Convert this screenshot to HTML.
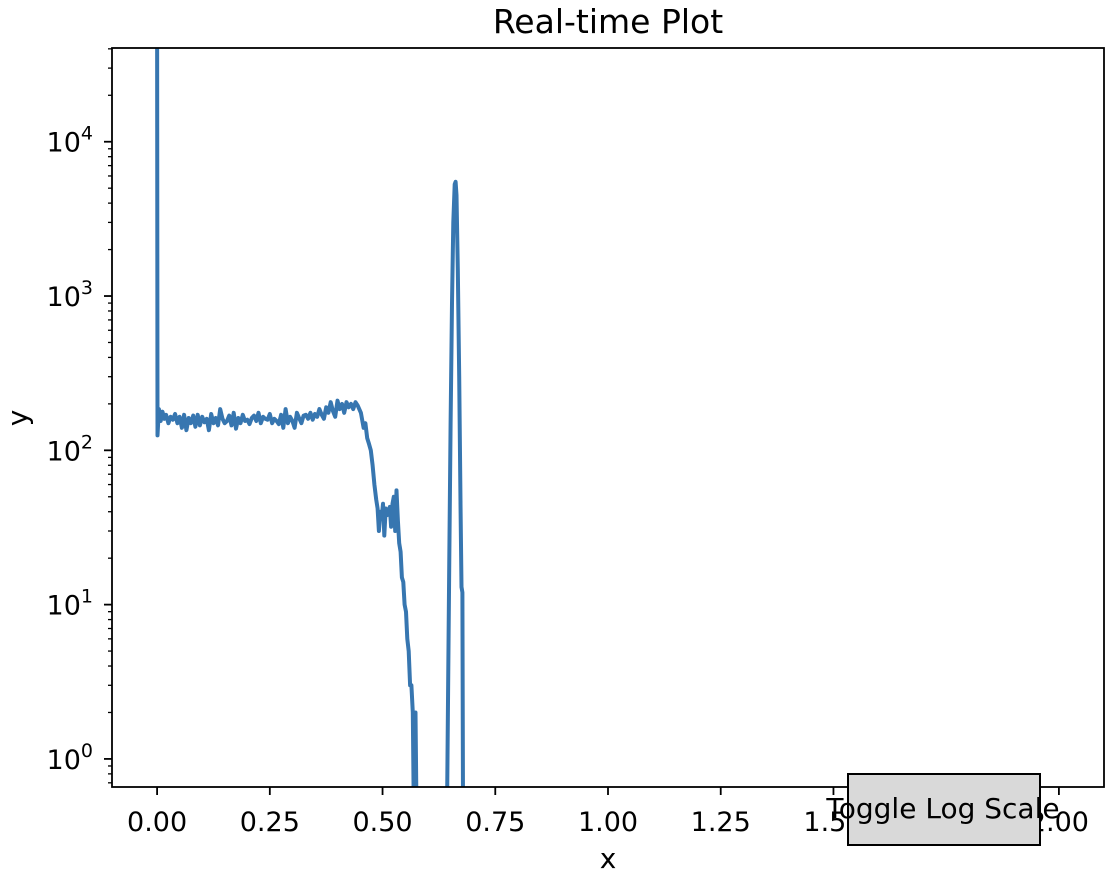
<!DOCTYPE html>
<html><head><meta charset="utf-8"><style>
body{margin:0;background:#fff;width:1116px;height:878px;overflow:hidden}
svg text{font-family:"DejaVu Sans","Liberation Sans",sans-serif;fill:#000}
</style></head><body>
<svg id="chart" width="1116" height="878" xmlns="http://www.w3.org/2000/svg">
<defs><clipPath id="clip"><rect x="112" y="48" width="992" height="739"/></clipPath></defs>
<text x="608" y="33" font-size="33" text-anchor="middle">Real-time Plot</text>
<text x="608" y="868" font-size="28" text-anchor="middle">x</text>
<text x="27" y="418" font-size="28" text-anchor="middle" transform="rotate(-90 27 418)">y</text>
<g id="ticks"></g>
<g clip-path="url(#clip)"><path id="line" fill="none" stroke="#3776b0" stroke-width="4" stroke-linejoin="round"/></g>
<rect x="112" y="48" width="992" height="739" fill="none" stroke="#000" stroke-width="1.8"/>
<g>
<rect x="848" y="774" width="192" height="71" fill="#d9d9d9" stroke="#000" stroke-width="2"/>
<text x="943" y="818" font-size="28" text-anchor="middle">Toggle Log Scale</text>
</g>
</svg>
<script>
const xTicks=[0,0.25,0.5,0.75,1.0,1.25,1.5,1.75,2.0];
const xTickLabels=["0.00","0.25","0.50","0.75","1.00","1.25","1.50","1.75","2.00"];
const yDecades=[0,1,2,3,4];
const flatX=[0.000,0.001,0.004,0.008,0.012,0.016,0.020,0.025,0.030,0.035,0.040,0.045,0.050,0.055,0.060,0.065,0.070,0.075,0.080,0.085,0.090,0.095,0.100,0.105,0.110,0.115,0.120,0.125,0.130,0.135,0.140,0.145,0.150,0.155,0.160,0.165,0.170,0.175,0.180,0.185,0.190,0.195,0.200,0.205,0.210,0.215,0.220,0.225,0.230,0.235,0.240,0.245,0.250,0.255,0.260,0.265,0.270,0.275,0.280,0.285,0.290,0.295,0.300,0.305,0.310,0.315,0.320,0.325,0.330,0.335,0.340,0.345,0.350,0.355,0.360,0.365,0.370,0.375,0.380,0.385,0.390,0.395,0.400,0.405,0.410,0.415,0.420,0.425,0.430,0.435,0.440,0.445];
const flatY=[60000,125,185,155,178,160,170,150,165,158,172,150,165,140,170,135,162,150,168,142,170,145,165,152,160,135,172,150,162,145,185,160,150,155,168,145,175,138,162,150,170,155,158,148,162,168,155,175,150,165,160,158,172,150,160,155,148,170,140,185,150,165,155,140,175,162,150,168,170,160,175,158,172,165,185,170,160,190,175,205,180,165,210,185,200,175,205,190,200,185,205,195];
const tailX=[0.452,0.458,0.462,0.466,0.470,0.474,0.478,0.482,0.486,0.489,0.492,0.495,0.498,0.501,0.504,0.507,0.510,0.513,0.516,0.519,0.522,0.525,0.528,0.531,0.534,0.537,0.540,0.543,0.546,0.549,0.552,0.555,0.558,0.561,0.564,0.567,0.570,0.573,0.576,0.578,0.580];
const tailY=[175,140,150,120,110,100,80,60,48,42,30,40,36,45,28,42,38,40,43,32,45,50,30,55,35,25,22,15,14,10,9,6,5,3,3,2,0.3,2,0.3,0.1,0.1];
const peakX=[0.620,0.641,0.645,0.648,0.651,0.654,0.657,0.660,0.662,0.664,0.667,0.670,0.673,0.675,0.677,0.679,0.681,0.700];
const peakY=[0.1,0.1,2,20,150,900,3000,5300,5500,4500,1500,300,40,13,12,0.1,0.1,0.1];
const X0=112,X1=1104,Y0=48,Y1=787,xmin=-0.1,xmax=2.1;
const ytop=Math.log10(40500),ybot=-0.182;
const sx=v=>X0+(v-xmin)/(xmax-xmin)*(X1-X0);
const sy=v=>Y0+(ytop-Math.log10(Math.max(v,1e-3)))/(ytop-ybot)*(Y1-Y0);
const xs=flatX.concat(tailX,peakX), ys=flatY.concat(tailY,peakY);
let d="";for(let i=0;i<xs.length;i++){d+=(i?"L":"M")+sx(xs[i]).toFixed(1)+" "+sy(ys[i]).toFixed(1);}
document.getElementById('line').setAttribute('d',d);
const g=document.getElementById('ticks');const NS="http://www.w3.org/2000/svg";
function mk(t,a){const e=document.createElementNS(NS,t);for(const k in a)e.setAttribute(k,a[k]);g.appendChild(e);return e;}
xTicks.forEach((v,i)=>{const x=sx(v);
const l=mk('line',{x1:x,x2:x,y1:Y1,y2:Y1+8,stroke:'#000','stroke-width':1.8});


const t=mk('text',{x:x,y:831,'font-size':27,'text-anchor':'middle'});t.textContent=xTickLabels[i];

});
for(let dd=-1;dd<=4;dd++){for(let m=1;m<10;m++){const v=m*Math.pow(10,dd);const y=sy(v);if(y<Y0||y>Y1)continue;
const l=mk('line',{x1:X0-(m==1?8:4),x2:X0,y1:y,y2:y,stroke:'#000','stroke-width':m==1?1.8:1.3});

}}
yDecades.forEach(e=>{const y=sy(Math.pow(10,e));
const t=mk('text',{x:93,y:y+10,'font-size':27,'text-anchor':'end'});
t.innerHTML='10<tspan dy="-12" font-size="19">'+e+'</tspan>';

});
</script>
</body></html>
